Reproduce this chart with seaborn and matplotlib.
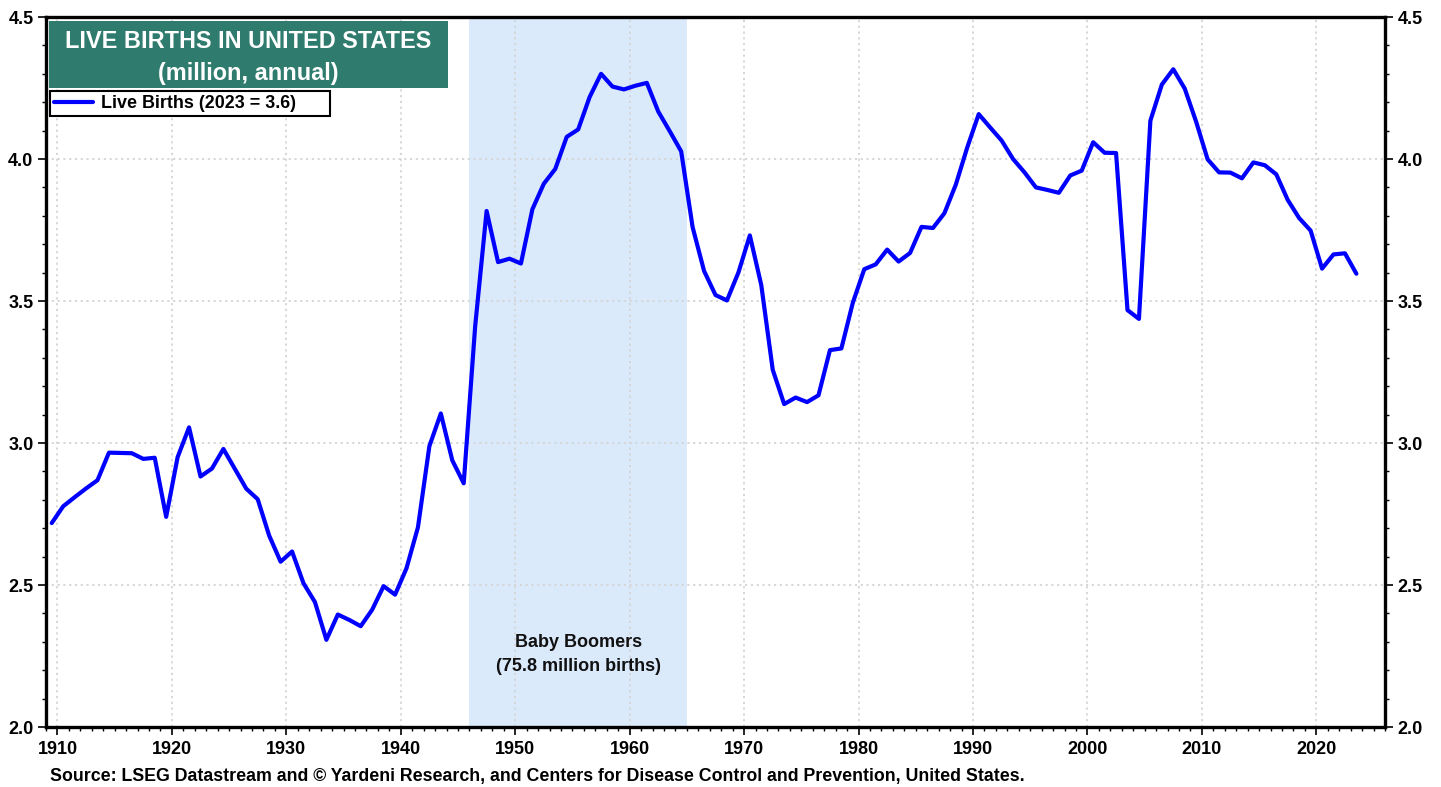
import numpy as np
import pandas as pd
import seaborn as sns
import matplotlib
matplotlib.use("Agg")
import matplotlib.pyplot as plt
from matplotlib.patches import Rectangle
from matplotlib.ticker import MultipleLocator, FormatStrFormatter

# ---------------- data ----------------
years = list(range(1909, 2024))
births = [
    2.718, 2.777, 2.809, 2.840, 2.869, 2.966, 2.965, 2.964, 2.944, 2.948,  # 1909-1918
    2.740, 2.950, 3.055, 2.882, 2.910, 2.979, 2.909, 2.839, 2.802, 2.674,  # 1919-1928
    2.582, 2.618, 2.506, 2.440, 2.307, 2.396, 2.377, 2.355, 2.413, 2.496,  # 1929-1938
    2.466, 2.559, 2.703, 2.989, 3.104, 2.939, 2.858, 3.411, 3.817, 3.637,  # 1939-1948
    3.649, 3.632, 3.823, 3.913, 3.965, 4.078, 4.104, 4.218, 4.300, 4.255,  # 1949-1958
    4.245, 4.258, 4.268, 4.167, 4.098, 4.027, 3.760, 3.606, 3.521, 3.502,  # 1959-1968
    3.600, 3.731, 3.556, 3.258, 3.137, 3.160, 3.144, 3.168, 3.327, 3.333,  # 1969-1978
    3.494, 3.612, 3.629, 3.681, 3.639, 3.669, 3.761, 3.757, 3.809, 3.910,  # 1979-1988
    4.041, 4.158, 4.111, 4.065, 4.000, 3.953, 3.900, 3.891, 3.881, 3.942,  # 1989-1998
    3.959, 4.059, 4.022, 4.021, 3.468, 3.437, 4.135, 4.262, 4.316, 4.248,  # 1999-2008
    4.131, 3.999, 3.953, 3.952, 3.932, 3.988, 3.978, 3.946, 3.856, 3.792,  # 2009-2018
    3.748, 3.614, 3.664, 3.668, 3.596,                                      # 2019-2023
]
boom_start, boom_end = 1946, 1965
title_lines = ["LIVE BIRTHS IN UNITED STATES", "(million, annual)"]
legend_label = "Live Births (2023 = 3.6)"
boom_label = "Baby Boomers\n(75.8 million births)"
source = ("Source: LSEG Datastream and \u00a9 Yardeni Research, and Centers for Disease "
          "Control and Prevention, United States.")

df = pd.DataFrame({"year": years, "births": births})
df["t"] = df["year"] + 0.5  # plotted at mid-year

# ---------------- style ----------------
sns.set_theme(style="white")
plt.rcParams["font.family"] = ["Liberation Sans", "DejaVu Sans"]
plt.rcParams["font.weight"] = "bold"
plt.rcParams["text.color"] = "black"
plt.rcParams["xtick.color"] = "black"
plt.rcParams["ytick.color"] = "black"
plt.rcParams["xtick.labelcolor"] = "black"
plt.rcParams["ytick.labelcolor"] = "black"

fig = plt.figure(figsize=(14.41, 7.87), dpi=100)
ax = fig.add_axes([46 / 1441, 1 - 727 / 787, (1385 - 46) / 1441, (727 - 17) / 787])

ax.axvspan(boom_start, boom_end, color="#dbeafb", zorder=0, lw=0)

sns.lineplot(data=df, x="t", y="births", ax=ax, color="#0000ff", lw=3.0,
             label=legend_label, zorder=3)

ax.set_xlim(1909, 2026)
ax.set_ylim(2.0, 4.5)
ax.set_xlabel("")
ax.set_ylabel("")

ax.xaxis.set_major_locator(MultipleLocator(10))
ax.xaxis.set_minor_locator(MultipleLocator(1))
ax.yaxis.set_major_locator(MultipleLocator(0.5))
ax.yaxis.set_minor_locator(MultipleLocator(0.1))
ax.yaxis.set_major_formatter(FormatStrFormatter("%.1f"))

ax.grid(True, which="major", color="#d4d4d4", linestyle=(0, (1.2, 2)), lw=1.3, zorder=1)

for sp in ax.spines.values():
    sp.set_color("black")
    sp.set_linewidth(2.4)

ax.tick_params(axis="both", which="major", direction="out", length=6, width=1.2,
               color="black", labelcolor="black", labelsize=13, bottom=True, left=True)
ax.tick_params(axis="both", which="minor", direction="out", length=3, width=1.0,
               color="black", bottom=True, left=True)
ax.tick_params(axis="x", which="major", pad=4)
ax.tick_params(axis="y", which="major", pad=3)
for lab in ax.get_xticklabels() + ax.get_yticklabels():
    lab.set_fontweight("bold")

# right axis
ax2 = ax.twinx()
ax2.set_ylim(ax.get_ylim())
ax2.yaxis.set_major_locator(MultipleLocator(0.5))
ax2.yaxis.set_minor_locator(MultipleLocator(0.1))
ax2.yaxis.set_major_formatter(FormatStrFormatter("%.1f"))
ax2.tick_params(axis="y", which="major", direction="out", length=6, width=1.2,
                color="black", labelcolor="black", labelsize=13, right=True, pad=3)
ax2.tick_params(axis="y", which="minor", direction="out", length=3, width=1.0,
                color="black", right=True)
for lab in ax2.get_yticklabels():
    lab.set_fontweight("bold")
for sp in ax2.spines.values():
    sp.set_visible(False)
ax2.grid(False)

# legend (expanded to the box width seen in the reference)
leg = ax.legend(loc="upper left",
                bbox_to_anchor=(50 / 1441, 1 - 118 / 787, (330 - 50) / 1441, 27 / 787),
                bbox_transform=fig.transFigure, mode="expand", frameon=True,
                fancybox=False, edgecolor="black", framealpha=1, borderaxespad=0,
                borderpad=0.22, handlelength=2.2, handletextpad=0.4,
                prop={"weight": "bold", "size": 12.9})
leg.get_frame().set_linewidth(1.5)
leg.set_zorder(10)
for t in leg.get_texts():
    t.set_color("black")

# title box
fig.patches.append(Rectangle((49 / 1441, 1 - 88 / 787), (448 - 49) / 1441, (88 - 21) / 787,
                             transform=fig.transFigure, facecolor="#2f7c6e",
                             edgecolor="none", zorder=5))
fig.text(248 / 1441, 1 - 41.5 / 787, title_lines[0], ha="center", va="center",
         color="white", fontsize=16.9, fontweight="bold", zorder=6)
fig.text(248 / 1441, 1 - 73.5 / 787, title_lines[1], ha="center", va="center",
         color="white", fontsize=16.9, fontweight="bold", zorder=6)

# annotation
ax.text((boom_start + boom_end) / 2, 2.255, boom_label, ha="center", va="center",
        fontsize=13, fontweight="bold", color="#111111", linespacing=1.6, zorder=4)

# source
fig.text(50 / 1441, 1 - 776.5 / 787, source, ha="left", va="center",
         fontsize=12.8, fontweight="bold", color="black")

fig.savefig("out.png", dpi=100)
